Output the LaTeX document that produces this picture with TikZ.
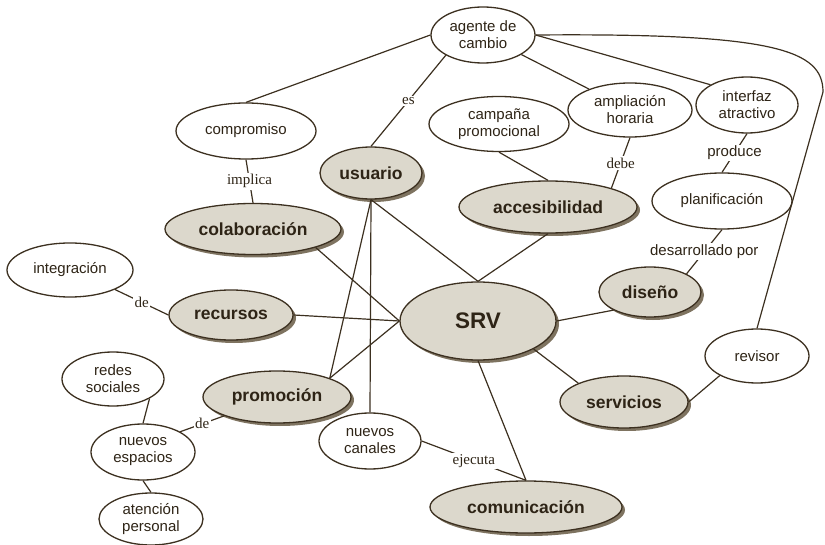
\documentclass[tikz,border=0pt]{standalone}
\usepackage{fontspec}
\setmainfont{Liberation Serif}
\setsansfont{Liberation Sans}
\usetikzlibrary{shapes.geometric,shadows}
\definecolor{borde}{HTML}{3C3020}
\definecolor{relleno}{HTML}{DCD8CC}
\definecolor{sombra}{HTML}{7E7360}
\definecolor{tinta}{HTML}{2E2416}

\begin{document}
\begin{tikzpicture}[x=1bp,y=-1bp,
	tam/.style 2 args={minimum width=#1bp,minimum height=#2bp},
	idea/.style={ellipse,draw=borde,line width=1.3bp,fill=white,inner sep=0pt,align=center,text=tinta,
		font=\sffamily\fontsize{15bp}{17bp}\selectfont},
	clave/.style={idea,fill=relleno,font=\sffamily\bfseries\fontsize{17.5bp}{19bp}\selectfont,
		drop shadow={shadow xshift=3bp,shadow yshift=-3bp,fill=sombra,opacity=1}},
	enlace/.style={fill=white,inner sep=1.5bp,text=tinta,font=\rmfamily\fontsize{15bp}{17bp}\selectfont},
	enlacesf/.style={enlace,font=\sffamily\fontsize{15bp}{17bp}\selectfont},
	linea/.style={draw=borde,line width=1.2bp}]
	
	\useasboundingbox (0,0) rectangle (825,545);
	
	\node[idea,tam={104}{56}] (agente) at (483,35) {agente de\\cambio};
	\node[idea,tam={140}{56}] (compromiso) at (246,131) {compromiso};
	\node[clave,tam={102}{52}] (usuario) at (371,173) {usuario};
	\node[clave,tam={176}{51}] (colaboracion) at (253,229) {colaboración};
	\node[idea,tam={140}{55}] (campana) at (499,124) {campaña\\promocional};
	\node[idea,tam={124}{54}] (ampliacion) at (630,110) {ampliación\\horaria};
	\node[idea,tam={102}{56}] (interfaz) at (747,105) {interfaz\\atractivo};
	\node[clave,tam={178}{52}] (accesibilidad) at (548,207) {accesibilidad};
	\node[idea,tam={140}{56}] (planificacion) at (722,201) {planificación};
	\node[idea,tam={126}{54}] (integracion) at (70,270) {integración};
	\node[clave,tam={124}{50}] (recursos) at (231,315) {recursos};
	\node[clave,tam={156}{78},font=\sffamily\bfseries\fontsize{22.5bp}{24bp}\selectfont] (srv) at (478,321) {SRV};
	\node[clave,tam={102}{50}] (diseno) at (650,292) {diseño};
	\node[idea,tam={104}{54}] (revisor) at (757,356) {revisor};
	\node[clave,tam={128}{52}] (servicios) at (624,402) {servicios};
	\node[clave,tam={148}{52}] (promocion) at (277,397) {promoción};
	\node[idea,tam={102}{54}] (redes) at (113,379) {redes\\sociales};
	\node[idea,tam={104}{56}] (espacios) at (143,452) {nuevos\\espacios};
	\node[idea,tam={104}{52}] (atencion) at (151,519) {atención\\personal};
	\node[idea,tam={102}{56}] (canales) at (370,441) {nuevos\\canales};
	\node[clave,tam={192}{52}] (comunicacion) at (526,507) {comunicación};
	
	% enlaces de agente de cambio
	\draw[linea] (agente.west) -- (compromiso.north);
	\draw[linea] (agente.south west) -- node[enlace]{es} (usuario.north);
	\draw[linea] (agente) -- (ampliacion);
	\draw[linea] (agente.east) -- (interfaz.north west);
	\draw[linea] (agente.east) .. controls (775,33) and (823,50) .. (823,92) -- (revisor.north);
	
	\draw[linea] (compromiso.south) -- node[enlace]{implica} (colaboracion.north);
	\draw[linea] (usuario.south) -- (srv.north);
	\draw[linea] (usuario.south) -- (promocion.north east);
	\draw[linea] (usuario.south) -- (canales.north);
	\draw[linea] (colaboracion.south east) -- (srv.west);
	\draw[linea] (recursos.east) -- (srv.west);
	\draw[linea] (promocion.north east) -- (srv.west);
	\draw[linea] (integracion.south east) -- node[enlace]{de} (recursos.west);
	
	\draw[linea] (campana.south) -- (accesibilidad.north);
	\draw[linea] (ampliacion.south) -- node[enlace]{debe} (accesibilidad.north east);
	\draw[linea] (accesibilidad.south) -- (srv.north);
	\draw[linea] (interfaz.south) -- node[enlacesf]{produce} (planificacion.north);
	\draw[linea] (planificacion.south) -- node[enlacesf]{desarrollado por} (diseno.north east);
	
	\draw[linea] (srv.east) -- (diseno.south west);
	\draw[linea] (srv.south east) -- (servicios.north west);
	\draw[linea] (servicios.east) -- (revisor.south west);
	\draw[linea] (srv.south) -- (comunicacion.north);
	\draw[linea] (canales.east) -- node[enlace]{ejecuta} (comunicacion.north);
	
	\draw[linea] (redes.south east) -- (espacios.north);
	\draw[linea] (espacios.south) -- (atencion.north);
	\draw[linea] (espacios.north east) -- node[enlace]{de} (promocion.south west);
	
\end{tikzpicture}
\end{document}
